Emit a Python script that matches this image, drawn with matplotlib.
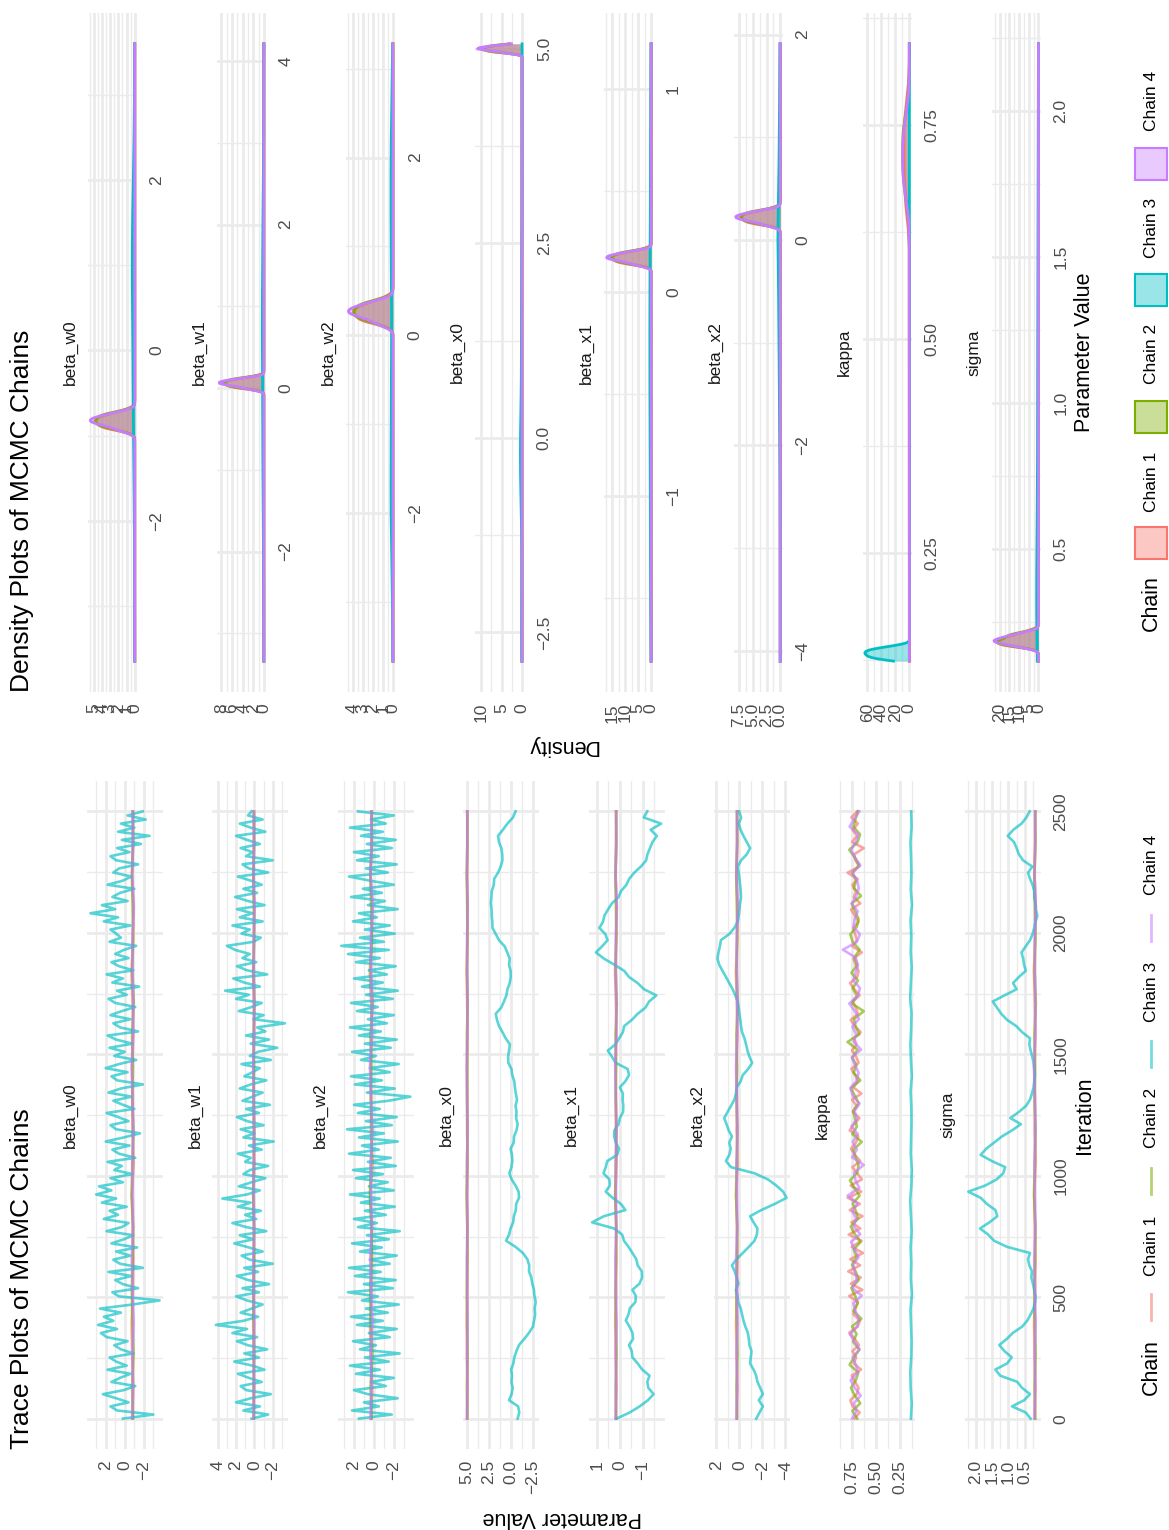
import numpy as np
import matplotlib
matplotlib.use("Agg")
import matplotlib.pyplot as plt
from matplotlib.patches import Rectangle
from matplotlib.lines import Line2D
from matplotlib.colors import to_rgba

plt.rcParams['font.family'] = ['Liberation Sans', 'DejaVu Sans']

# ---------------------------------------------------------------- data
params = ["beta_w0", "beta_w1", "beta_w2", "beta_x0", "beta_x1", "beta_x2", "kappa", "sigma"]
chain_names = ["Chain 1", "Chain 2", "Chain 3", "Chain 4"]
chain_colors = ["#F8766D", "#7CAE00", "#00BFC4", "#C77CFF"]
n_iter = 2500
iter_breaks = [0, 500, 1000, 1500, 2000, 2500]

# chain 3 (the wandering chain)
w0_c3 = [0.2, -3.0, 0.8, 1.5, -0.4, 0.9, 2.3, 0.1, -1.1, 1.4,
         0.5, -0.6, 1.8, -0.2, 0.9, 1.6, -0.9, 0.4, 1.1, -0.3,
         1.9, 2.5, 0.8, 2.8, 1.2, 2.2, 0.4, 2.6, -0.8, -3.65,
         0.6, 1.3, -1.4, 0.2, 1.0, -0.7, 1.7, -1.9, 0.5, 1.2,
         -0.6, 0.9, -1.3, 1.4, 0.1, -0.9, 1.9, 0.3, -0.4, 2.2,
         0.7, 1.6, -0.2, 2.4, 0.9, 3.0, 1.4, 2.7, 0.2, 1.5,
         -0.8, 1.1, 0.3, 1.8, -1.1, 0.6, 1.3, -0.5, 2.0, 0.1,
         -1.6, 0.9, 1.5, -0.4, 0.7, 1.9, -1.0, 0.2, 1.2, -0.7,
         1.7, 0.4, -1.9, 0.8, 1.4, -0.3, 2.0, 0.6, -1.2, 1.1,
         0.0, 1.6, -0.8, 0.9, 1.8, -1.4, 0.5, 1.2, -0.6, 1.5,
         0.3, -1.1, 1.0, 1.7, -0.2, 0.8, -1.5, 1.3, 0.2, 1.9,
         -0.9, 0.6, 1.4, -0.4, 1.0, 0.1, -1.2, 1.6, 0.4, 0.9,
         1.5, -0.6, 2.2, 0.7, 3.6, 1.0, 2.4, -0.3, 1.3, 0.5,
         -1.0, 1.8, 0.2, -0.7, 1.2, 0.6, -1.4, 0.9, 1.5, -0.5,
         0.8, -1.7, 0.3, -2.6, 0.7, -1.0, 0.4, -2.2, -0.3, -1.9]
w1_c3 = [0.3, -1.5, 1.2, -0.6, 2.0, 0.4, -1.8, 0.9, 1.5, -0.8,
         0.6, 1.8, -1.1, 0.2, 2.2, -0.5, 1.1, -1.4, 0.7, 1.9,
         -0.3, 2.4, 0.8, 4.21, 1.2, -0.4, 1.5, 0.3, -0.9, 0.8,
         2.0, -0.5, 1.3, -1.6, 0.7, 1.9, -0.4, 1.1, -2.0, 0.5,
         1.4, -0.9, 0.6, 2.2, 0.1, 1.6, -1.3, 0.9, 2.4, -0.2,
         1.0, -0.7, 1.8, 0.4, 3.5, 0.8, -0.6, 1.7, 0.3, -1.2,
         1.2, 0.5, -1.5, 1.0, 0.4, 1.8, -0.8, 0.6, -2.1, 1.2,
         0.0, 1.5, -1.0, 0.8, 1.9, -0.5, 0.9, -1.7, 1.3, 0.2,
         -0.9, 1.6, 0.4, -1.3, 1.1, 0.2, -0.6, 1.4, -1.8, 0.5,
         -0.4, -2.5, 0.4, -1.6, 0.9, -1.2, -0.3, -3.34, 0.1, -1.0,
         1.7, 0.3, -0.8, 2.0, 0.6, 3.2, -0.6, 1.1, 2.3, -1.4,
         0.8, 1.9, -0.2, 1.3, 0.5, 2.1, 3.0, 0.1, -0.7, 1.4,
         0.5, 2.4, -0.9, 1.6, 0.2, 1.9, -1.1, 0.7, 2.1, -0.3,
         1.2, -0.8, 0.4, 1.8, -1.5, 0.6, 1.3, -2.0, 0.9, 0.2,
         1.5, -0.6, 0.8, 2.0, -1.2, 0.4, 1.6, -0.9, 0.7, 0.3]
w2_c3 = [1.5, -1.8, 2.2, -0.5, 1.0, -2.4, 0.6, 2.0, -1.2, 0.3,
         -2.0, 1.8, -0.6, 2.4, -1.5, 0.9, -2.6, 1.4, -0.2, 2.1,
         -1.6, 0.5, -2.3, 1.7, -0.9, 2.3, -1.4, 0.8, -2.5, 1.2,
         -0.4, 2.6, -1.9, 1.0, -2.2, 1.9, -0.7, 2.5, -1.6, 0.4,
         -2.3, 1.4, -0.8, 2.2, -1.5, 0.7, -2.6, 1.6, -0.3, 2.0,
         -1.2, 0.9, -2.1, 1.3, -0.6, 2.4, -2.0, 0.5, -1.4, 1.8,
         -0.9, 2.1, -2.2, 0.6, -1.7, 2.5, -0.5, 1.2, -2.4, 1.5,
         -1.0, 2.7, -1.8, 0.8, -2.3, 1.6, -0.6, 2.0, -1.5, -3.67,
         0.7, -2.1, 1.9, -0.8, 2.3, -1.6, 0.4, -2.5, 1.3, -0.2,
         2.2, -1.7, 0.9, -2.3, 1.5, -0.7, 2.4, -1.3, 0.6, -2.0,
         1.7, -0.4, 2.3, -1.9, 0.8, -2.4, 1.2, -0.9, 2.0, -1.3,
         0.5, -2.2, 1.8, -0.6, 2.6, -1.5, 3.28, -1.0, 1.4, -2.1,
         0.9, -1.6, 2.1, -0.3, 1.5, -2.4, 0.6, -1.1, 2.3, -0.8,
         1.1, -2.0, 0.4, 2.5, -1.4, 0.8, -2.3, 1.7, -0.5, 2.0,
         -1.8, 0.7, -2.2, 1.3, -0.9, 2.4, -1.2, 0.3, -2.0, 1.6]
x0_c3 = [-0.79, -0.98, -0.85, 0.20, -0.10, -0.22, -0.08, -0.15, -0.05, -0.30,
         -0.41, -0.65, -0.95, -1.55, -2.10, -2.55, -2.68, -2.80, -2.74, -2.87,
         -2.72, -2.66, -2.48, -2.36, -2.10, -2.12, -1.90, -1.40, -0.55, 0.54,
         0.20, 0.02, -0.28, -0.36, -0.58, -0.62, -0.95, -0.90, -0.55, -0.10,
         0.16, -0.08, -0.18, -0.14, 0.02, -0.34, -0.38, -0.66, -0.79, -0.62,
         -0.66, -0.55, -0.72, -0.58, -0.48, -0.40, -0.18, -0.08, 0.28, 0.30,
         0.20, 0.10, 0.58, 0.95, 1.35, 1.58, 1.72, 1.10, 0.78, 0.50,
         0.38, 0.12, 0.00, 0.02, 0.20, 0.12, 0.40, 0.70, 1.35, 1.72,
         2.10, 2.12, 2.18, 2.20, 2.28, 2.22, 2.18, 1.95, 1.90, 1.46,
         1.15, 0.96, 0.98, 1.08, 1.35, 1.46, 0.90, 0.38, -0.25, -0.55]
x1_c3 = [0.15, -0.43, -0.87, -1.23, -1.48, -1.25, -1.20, -1.30, -0.98, -0.78,
         -0.55, -0.52, -0.40, -0.58, -0.55, -0.42, -0.26, -0.38, -0.44, -0.68,
         -0.70, -0.55, -0.86, -0.97, -0.96, -0.78, -0.72, -0.55, -0.38, -0.18,
         -0.10, 0.25, 1.22, 0.70, -0.24, -0.05, 0.32, 0.62, 0.44, 0.46,
         0.72, 0.62, 0.55, 0.12, 0.04, 0.18, 0.25, 0.24, 0.06, 0.00,
         -0.14, -0.15, -0.12, -0.13, 0.00, -0.24, -0.40, -0.34, 0.18, 0.35,
         0.53, 0.20, 0.03, -0.13, -0.19, -0.52, -0.78, -1.12, -1.28, -1.60,
         -1.06, -0.78, -0.40, -0.19, 0.24, 0.70, 1.05, 0.78, 0.54, 0.64,
         0.90, 0.74, 0.68, 0.52, 0.35, 0.06, -0.05, -0.28, -0.41, -0.63,
         -0.92, -1.15, -1.21, -1.32, -1.43, -1.62, -1.35, -1.81, -1.05, -1.20]
x2_c3 = [-1.46, -1.75, -2.04, -1.69, -2.04, -1.81, -1.57, -1.46, -1.23, -0.93,
         -0.99, -1.05, -0.87, -0.82, -0.73, -0.52, -0.35, -0.23, -0.11, 0.12,
         0.15, 0.30, 0.09, 0.24, 0.41, 0.65, 0.24, -0.29, -0.82, -1.31,
         -1.52, -1.57, -1.23, -0.93, -1.90, -3.07, -4.10, -3.80, -3.21, -2.48,
         -1.31, 0.73, 1.17, 0.88, 0.76, 0.88, 0.65, 0.94, 1.12, 1.32,
         1.03, 0.73, 0.44, 0.30, 0.24, -0.11, -0.29, -0.76, -1.11, -0.87,
         -0.70, -0.58, -0.44, -0.23, -0.14, -0.08, 0.00, 0.06, 0.15, 0.35,
         0.59, 0.88, 1.17, 1.47, 1.76, 1.91, 1.82, 1.70, 1.61, 0.88,
         0.44, 0.15, 0.06, 0.00, -0.06, -0.14, -0.11, -0.06, 0.00, 0.06,
         0.15, -0.14, -0.64, -0.93, -0.64, -0.35, -0.10, 0.05, -0.15, 0.02]
kappa_c3 = [0.1346, 0.1266, 0.1372, 0.1410, 0.1309, 0.1282, 0.1335, 0.1388, 0.1245, 0.1357,
            0.1319, 0.1378, 0.1277, 0.1341, 0.1425, 0.1298, 0.1261, 0.1362, 0.1330, 0.1293,
            0.1304, 0.1378, 0.1256, 0.1341, 0.1399, 0.1325, 0.1288, 0.1420, 0.1351, 0.1272,
            0.1367, 0.1314, 0.1383, 0.1240, 0.1362, 0.1298, 0.1335, 0.1394, 0.1282, 0.1319]
sigma_c3 = [0.32, 0.47, 0.89, 0.52, 0.34, 0.58, 0.73, 1.25, 1.40, 1.04,
            0.90, 1.12, 1.28, 1.05, 0.86, 0.58, 0.42, 0.32, 0.23, 0.18,
            0.17, 0.21, 0.25, 0.30, 0.28, 0.36, 0.40, 0.34, 1.04, 1.44,
            1.62, 1.87, 1.58, 1.34, 1.40, 1.66, 1.85, 2.23, 1.71, 1.36,
            1.16, 1.10, 1.51, 1.85, 1.68, 1.44, 1.20, 0.89, 0.62, 0.94,
            0.68, 0.46, 0.34, 0.28, 0.23, 0.21, 0.19, 0.21, 0.23, 0.27,
            0.32, 0.36, 0.34, 0.58, 0.76, 1.04, 1.22, 1.35, 1.48, 1.12,
            0.75, 0.86, 0.68, 0.47, 0.52, 0.55, 0.60, 0.47, 0.34, 0.26,
            0.21, 0.17, 0.115, 0.16, 0.17, 0.21, 0.21, 0.26, 0.34, 0.40,
            0.27, 0.55, 0.68, 0.75, 0.83, 1.02, 0.85, 0.60, 0.45, 0.35]

# chains 1, 2 and 4 (the converged chains)
w0_c1 = [-0.809, -0.914, -0.774, -0.725, -0.858, -0.893, -0.823, -0.753, -0.942, -0.795,
         -0.844, -0.767, -0.900, -0.816, -0.704, -0.872, -0.921, -0.788, -0.830, -0.879]
w0_c2 = [-0.865, -0.767, -0.928, -0.816, -0.739, -0.837, -0.886, -0.711, -0.802, -0.907,
         -0.781, -0.851, -0.760, -0.949, -0.788, -0.872, -0.823, -0.746, -0.893, -0.844]
w0_c4 = [-0.760, -0.851, -0.795, -0.935, -0.816, -0.732, -0.879, -0.837, -0.774, -0.914,
         -0.809, -0.718, -0.865, -0.893, -0.830, -0.788, -0.956, -0.767, -0.858, -0.823]
w1_c1 = [0.074, 0.006, 0.096, 0.128, 0.042, 0.020, 0.065, 0.110, -0.012, 0.083,
         0.051, 0.101, 0.015, 0.069, 0.141, 0.033, 0.002, 0.087, 0.060, 0.029]
w1_c2 = [0.038, 0.101, -0.003, 0.069, 0.119, 0.056, 0.024, 0.137, 0.078, 0.011,
         0.092, 0.047, 0.105, -0.017, 0.087, 0.033, 0.065, 0.114, 0.020, 0.051]
w1_c4 = [0.105, 0.047, 0.083, -0.008, 0.069, 0.123, 0.029, 0.056, 0.096, 0.006,
         0.074, 0.132, 0.038, 0.020, 0.060, 0.087, -0.021, 0.101, 0.042, 0.065]
w2_c1 = [0.286, 0.158, 0.328, 0.388, 0.226, 0.184, 0.269, 0.354, 0.124, 0.303,
         0.243, 0.337, 0.175, 0.277, 0.413, 0.209, 0.150, 0.311, 0.260, 0.201]
w2_c2 = [0.218, 0.337, 0.141, 0.277, 0.371, 0.252, 0.192, 0.405, 0.294, 0.167,
         0.320, 0.235, 0.345, 0.116, 0.311, 0.209, 0.269, 0.362, 0.184, 0.243]
w2_c4 = [0.345, 0.235, 0.303, 0.133, 0.277, 0.379, 0.201, 0.252, 0.328, 0.158,
         0.286, 0.396, 0.218, 0.184, 0.260, 0.311, 0.107, 0.337, 0.226, 0.269]
x0_c1 = [5.011, 4.958, 5.028, 5.053, 4.986, 4.969, 5.004, 5.039, 4.944, 5.018,
         4.993, 5.032, 4.965, 5.007, 5.063, 4.979, 4.955, 5.021, 5.000, 4.976]
x0_c2 = [4.983, 5.032, 4.951, 5.007, 5.046, 4.997, 4.972, 5.060, 5.014, 4.962,
         5.025, 4.990, 5.035, 4.941, 5.021, 4.979, 5.004, 5.042, 4.969, 4.993]
x0_c4 = [5.035, 4.990, 5.018, 4.948, 5.007, 5.049, 4.976, 4.997, 5.028, 4.958,
         5.011, 5.056, 4.983, 4.969, 5.000, 5.021, 4.937, 5.032, 4.986, 5.004]
x1_c1 = [0.177, 0.144, 0.188, 0.203, 0.161, 0.150, 0.172, 0.194, 0.135, 0.181,
         0.166, 0.190, 0.148, 0.174, 0.210, 0.157, 0.141, 0.183, 0.170, 0.155]
x1_c2 = [0.159, 0.190, 0.139, 0.174, 0.199, 0.168, 0.152, 0.207, 0.179, 0.146,
         0.185, 0.163, 0.192, 0.133, 0.183, 0.157, 0.172, 0.196, 0.150, 0.166]
x1_c4 = [0.192, 0.163, 0.181, 0.137, 0.174, 0.201, 0.155, 0.168, 0.188, 0.144,
         0.177, 0.205, 0.159, 0.150, 0.170, 0.183, 0.130, 0.190, 0.161, 0.172]
x2_c1 = [0.234, 0.164, 0.258, 0.291, 0.201, 0.178, 0.225, 0.272, 0.145, 0.244,
         0.211, 0.262, 0.173, 0.229, 0.305, 0.192, 0.159, 0.248, 0.220, 0.187]
x2_c2 = [0.197, 0.262, 0.154, 0.229, 0.281, 0.215, 0.182, 0.300, 0.239, 0.168,
         0.253, 0.206, 0.267, 0.140, 0.248, 0.192, 0.225, 0.276, 0.178, 0.211]
x2_c4 = [0.267, 0.206, 0.244, 0.150, 0.229, 0.286, 0.187, 0.215, 0.258, 0.164,
         0.234, 0.295, 0.197, 0.178, 0.220, 0.248, 0.135, 0.262, 0.201, 0.225]
kappa_a = [0.724, 0.670, 0.742, 0.767, 0.699, 0.681, 0.717, 0.753, 0.655, 0.731,
           0.706, 0.745, 0.677, 0.720, 0.778, 0.691, 0.666, 0.735, 0.713, 0.688]
kappa_b = [0.695, 0.745, 0.663, 0.720, 0.760, 0.709, 0.684, 0.774, 0.727, 0.673,
           0.738, 0.702, 0.749, 0.652, 0.735, 0.691, 0.717, 0.756, 0.681, 0.706]
kappa_c = [0.749, 0.702, 0.731, 0.659, 0.720, 0.763, 0.688, 0.709, 0.742, 0.670,
           0.724, 0.771, 0.695, 0.681, 0.713, 0.735, 0.648, 0.745, 0.699, 0.717]
kappa_d = [0.738, 0.681, 0.720, 0.760, 0.663, 0.731, 0.706, 0.745, 0.691, 0.796,
           0.673, 0.713, 0.727, 0.627, 0.749, 0.699, 0.742, 0.688, 0.756, 0.695]
kappa_e = [0.712, 0.845, 0.700, 0.668, 0.733, 0.721, 0.690, 0.752, 0.704, 0.679]
kappa_f = [0.779, 0.642, 0.761, 0.658, 0.789, 0.665, 0.768, 0.635, 0.753, 0.650,
           0.784, 0.663, 0.756, 0.640, 0.773, 0.668, 0.794, 0.653, 0.763, 0.647]
kappa_c1 = kappa_a + kappa_f + kappa_b + kappa_c + kappa_d
kappa_c2 = kappa_b + kappa_c + kappa_d + kappa_a
kappa_c4 = kappa_c + kappa_d + kappa_a + kappa_e + kappa_b[:10]
sigma_c1 = [0.1907, 0.1682, 0.2002, 0.2135, 0.1794, 0.1724, 0.1869, 0.2059, 0.1626, 0.1945,
            0.1822, 0.2021, 0.1710, 0.1888, 0.2192, 0.1766, 0.1668, 0.1964, 0.1850, 0.1752]
sigma_c2 = [0.1780, 0.2021, 0.1654, 0.1888, 0.2097, 0.1836, 0.1738, 0.2173, 0.1926, 0.1696,
            0.1983, 0.1808, 0.2040, 0.1612, 0.1964, 0.1766, 0.1869, 0.2078, 0.1724, 0.1822]
sigma_c4 = [0.2040, 0.1808, 0.1945, 0.1640, 0.1888, 0.2116, 0.1752, 0.1836, 0.2002, 0.1682,
            0.1907, 0.2154, 0.1780, 0.1724, 0.1850, 0.1964, 0.1598, 0.2021, 0.1794, 0.1869]

traces = {
    "beta_w0": [w0_c1, w0_c2, w0_c3, w0_c4],
    "beta_w1": [w1_c1, w1_c2, w1_c3, w1_c4],
    "beta_w2": [w2_c1, w2_c2, w2_c3, w2_c4],
    "beta_x0": [x0_c1, x0_c2, x0_c3, x0_c4],
    "beta_x1": [x1_c1, x1_c2, x1_c3, x1_c4],
    "beta_x2": [x2_c1, x2_c2, x2_c3, x2_c4],
    "kappa": [kappa_c1, kappa_c2, kappa_c3, kappa_c4],
    "sigma": [sigma_c1, sigma_c2, sigma_c3, sigma_c4],
}

value_breaks = {
    "beta_w0": [-2, 0, 2], "beta_w1": [-2, 0, 2, 4], "beta_w2": [-2, 0, 2],
    "beta_x0": [-2.5, 0.0, 2.5, 5.0], "beta_x1": [-1, 0, 1], "beta_x2": [-4, -2, 0, 2],
    "kappa": [0.25, 0.50, 0.75], "sigma": [0.5, 1.0, 1.5, 2.0],
}
value_labels = {
    "beta_w0": ["\u22122", "0", "2"], "beta_w1": ["\u22122", "0", "2", "4"],
    "beta_w2": ["\u22122", "0", "2"], "beta_x0": ["\u22122.5", "0.0", "2.5", "5.0"],
    "beta_x1": ["\u22121", "0", "1"], "beta_x2": ["\u22124", "\u22122", "0", "2"],
    "kappa": ["0.25", "0.50", "0.75"], "sigma": ["0.5", "1.0", "1.5", "2.0"],
}
density_breaks = {
    "beta_w0": [0, 1, 2, 3, 4, 5], "beta_w1": [0, 2, 4, 6, 8], "beta_w2": [0, 1, 2, 3, 4],
    "beta_x0": [0, 5, 10], "beta_x1": [0, 5, 10, 15], "beta_x2": [0.0, 2.5, 5.0, 7.5],
    "kappa": [0, 20, 40, 60], "sigma": [0, 5, 10, 15, 20],
}
density_labels = {
    "beta_w0": ["0", "1", "2", "3", "4", "5"], "beta_w1": ["0", "2", "4", "6", "8"],
    "beta_w2": ["0", "1", "2", "3", "4"], "beta_x0": ["0", "5", "10"],
    "beta_x1": ["0", "5", "10", "15"], "beta_x2": ["0.0", "2.5", "5.0", "7.5"],
    "kappa": ["0", "20", "40", "60"], "sigma": ["0", "5", "10", "15", "20"],
}

# ---------------------------------------------------------------- layout
W, H = 1169, 1530
fig = plt.figure(figsize=(W / 100, H / 100), dpi=100)
fig.patch.set_facecolor("white")
GRID = "#EBEBEB"
TICK_C = "#4D4D4D"
STRIP_C = "#1A1A1A"
FS_TICK = 12.5
FS_AXT = 15.5
FS_TITLE = 19


def fx(x):
    return x / W


def fy(y):
    return 1 - y / H


def add_ax(x0, y0, x1, y1):
    return fig.add_axes([x0 / W, 1 - y1 / H, (x1 - x0) / W, (y1 - y0) / H])


overlay = fig.add_axes([0, 0, 1, 1])
overlay.set_xlim(0, W)
overlay.set_ylim(H, 0)
overlay.set_axis_off()
overlay.patch.set_alpha(0)


def minor_from(major, lo, hi):
    step = major[1] - major[0]
    cand = [major[0] - step / 2] + [(a + b) / 2 for a, b in zip(major[:-1], major[1:])] + [major[-1] + step / 2]
    return [c for c in cand if lo <= c <= hi]


def style(ax):
    for s in ax.spines.values():
        s.set_visible(False)
    ax.set_facecolor("none")
    ax.set_axisbelow(True)
    ax.tick_params(which="both", length=0, colors=TICK_C, labelsize=FS_TICK)
    ax.grid(which="major", color=GRID, lw=2.0)
    ax.grid(which="minor", color=GRID, lw=1.0)


def kde(vals, grid):
    v = np.asarray(vals, dtype=float)
    n = len(v)
    sd = v.std(ddof=1)
    q75, q25 = np.percentile(v, [75, 25])
    bw = 0.9 * min(sd, (q75 - q25) / 1.34) * n ** -0.2
    z = (grid[:, None] - v[None, :]) / bw
    return np.exp(-0.5 * z * z).sum(axis=1) / (n * bw * np.sqrt(2 * np.pi))


# ---------------- trace plots
T_X0, T_STEP, T_W = 87, 125.4, 76
T_TOP, T_BOT = 781, 1449
iter_minor = [250, 750, 1250, 1750, 2250]
for i, p in enumerate(params):
    x0 = T_X0 + i * T_STEP
    ax = add_ax(x0, T_TOP, x0 + T_W, T_BOT)
    style(ax)
    allv = np.concatenate([np.asarray(c, float) for c in traces[p]])
    lo, hi = allv.min(), allv.max()
    pad = 0.05 * (hi - lo)
    for k, vals in enumerate(traces[p]):
        it = np.linspace(1, n_iter, len(vals))
        ax.plot(vals, it, color=chain_colors[k], lw=1.9, alpha=0.65, solid_joinstyle="round")
    ax.set_xlim(hi + pad, lo - pad)
    ax.set_ylim(1 - 0.05 * (n_iter - 1), n_iter + 0.05 * (n_iter - 1))
    ax.set_xticks(value_breaks[p], value_labels[p], rotation=90, fontsize=FS_TICK, color=TICK_C)
    ax.set_xticks(minor_from(value_breaks[p], lo - pad, hi + pad), minor=True)
    ax.tick_params(axis="x", which="major", pad=8)
    ax.set_yticks(iter_breaks)
    ax.set_yticks(iter_minor, minor=True)
    if i == len(params) - 1:
        ax.yaxis.tick_right()
        ax.set_yticklabels([str(b) for b in iter_breaks], fontsize=FS_TICK, color=TICK_C)
        for t in ax.get_yticklabels():
            t.set_rotation(90)
            t.set_va("center")
            t.set_ha("left")
        ax.tick_params(axis="y", which="both", pad=9, length=0)
    else:
        ax.tick_params(axis="y", labelleft=False, labelright=False)
    fig.text(fx(x0 - 17), fy((T_TOP + T_BOT) / 2), p, rotation=90, ha="center", va="center",
             fontsize=FS_TICK, color=STRIP_C)

fig.text(fx(22), fy(T_BOT), "Trace Plots of MCMC Chains", rotation=90, ha="center", va="bottom",
         fontsize=FS_TITLE, color="black")
fig.text(fx(562), fy(1517), "Parameter Value", rotation=180, ha="center", va="center",
         fontsize=FS_AXT, color="black")
fig.text(fx(1085), fy((T_TOP + T_BOT) / 2), "Iteration", rotation=90, ha="center", va="center",
         fontsize=FS_AXT, color="black")

# ---------------- density plots
D_X0, D_STEP, D_W = 88, 129.1, 49
D_TOP, D_BOT = 13, 692
for i, p in enumerate(params):
    x0 = D_X0 + i * D_STEP
    ax = add_ax(x0, D_TOP, x0 + D_W, D_BOT)
    style(ax)
    allv = np.concatenate([np.asarray(c, float) for c in traces[p]])
    lo, hi = allv.min(), allv.max()
    pad = 0.05 * (hi - lo)
    grid = np.linspace(lo, hi, 512)
    dens = [kde(c, grid) for c in traces[p]]
    dmax = max(d.max() for d in dens)
    for k, d in enumerate(dens):
        ax.fill_betweenx(grid, 0, d, color=chain_colors[k], alpha=0.4, lw=0)
        ax.plot(d, grid, color=chain_colors[k], lw=2.0)
    ax.set_xlim(1.05 * dmax, -0.05 * dmax)
    ax.set_ylim(lo - pad, hi + pad)
    db = [(b, l) for b, l in zip(density_breaks[p], density_labels[p]) if b <= 1.05 * dmax]
    ax.set_xticks([b for b, _ in db], [l for _, l in db], rotation=90, fontsize=FS_TICK, color=TICK_C)
    dbv = [b for b, _ in db]
    if len(dbv) > 1:
        ax.set_xticks(minor_from(dbv, -0.05 * dmax, 1.05 * dmax), minor=True)
    ax.tick_params(axis="x", which="major", pad=8)
    ax.yaxis.tick_right()
    ax.set_yticks(value_breaks[p], value_labels[p], fontsize=FS_TICK, color=TICK_C)
    ax.set_yticks(minor_from(value_breaks[p], lo - pad, hi + pad), minor=True)
    for t in ax.get_yticklabels():
        t.set_rotation(90)
        t.set_va("center")
        t.set_ha("left")
    ax.tick_params(axis="y", which="both", pad=9, length=0)
    fig.text(fx(x0 - 18), fy((D_TOP + D_BOT) / 2), p, rotation=90, ha="center", va="center",
             fontsize=FS_TICK, color=STRIP_C)

fig.text(fx(22), fy(D_BOT), "Density Plots of MCMC Chains", rotation=90, ha="center", va="bottom",
         fontsize=FS_TITLE, color="black")
fig.text(fx(562), fy(745), "Density", rotation=180, ha="center", va="center",
         fontsize=FS_AXT, color="black")
fig.text(fx(1085), fy((D_TOP + D_BOT) / 2), "Parameter Value", rotation=90, ha="center",
         va="center", fontsize=FS_AXT, color="black")

# ---------------- legends
LX = 1151
title_y = 603
key_ys = [543, 417, 290, 164]
label_ys = [482, 354, 228, 101]


def draw_legend(shift, kind):
    fig.text(fx(LX), fy(title_y + shift), "Chain", rotation=90, ha="center", va="center",
             fontsize=FS_AXT, color="black")
    for k in range(4):
        ky = key_ys[k] + shift
        if kind == "box":
            overlay.add_patch(Rectangle((LX - 16, ky - 16), 32, 32,
                                        facecolor=to_rgba(chain_colors[k], 0.4),
                                        edgecolor=chain_colors[k], lw=1.5))
        else:
            overlay.add_line(Line2D([LX, LX], [ky - 13, ky + 13], color=chain_colors[k],
                                    lw=2.0, alpha=0.55))
        fig.text(fx(LX), fy(label_ys[k] + shift), chain_names[k], rotation=90, ha="center",
                 va="center", fontsize=FS_TICK, color="black")


draw_legend(0, "box")
draw_legend(764, "line")

fig.savefig("out.png", dpi=100, facecolor="white")
